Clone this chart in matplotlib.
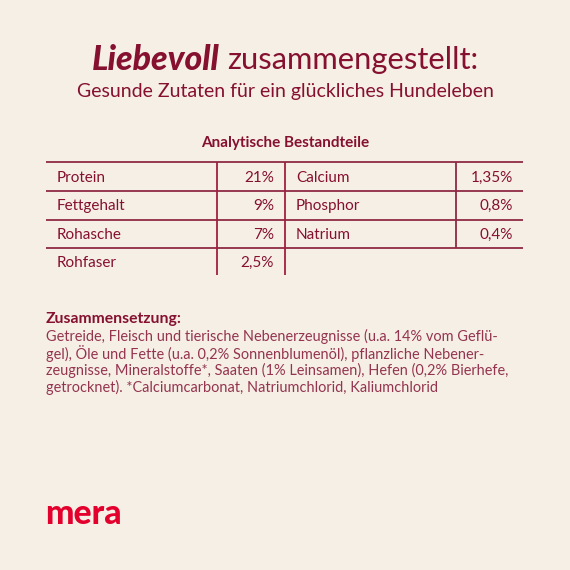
import matplotlib
matplotlib.use("Agg")
import matplotlib.pyplot as plt

BG = "#f6efe6"
DARK = "#85102f"
LINE = "#8f2a45"
BODY = "#94344f"
RED = "#e3002d"
FONT = "Lato"

title_bold = "Liebevoll"
title_rest = "zusammengestellt:"
subtitle = "Gesunde Zutaten für ein glückliches Hundeleben"
table_title = "Analytische Bestandteile"
left_names = ["Protein", "Fettgehalt", "Rohasche", "Rohfaser"]
left_values = ["21%", "9%", "7%", "2,5%"]
right_names = ["Calcium", "Phosphor", "Natrium"]
right_values = ["1,35%", "0,8%", "0,4%"]
comp_title = "Zusammensetzung:"
comp_lines = [
    "Getreide, Fleisch und tierische Nebenerzeugnisse (u.a. 14% vom Geflü-",
    "gel), Öle und Fette (u.a. 0,2% Sonnenblumenöl), pflanzliche Nebener-",
    "zeugnisse, Mineralstoffe*, Saaten (1% Leinsamen), Hefen (0,2% Bierhefe,",
    "getrocknet). *Calciumcarbonat, Natriumchlorid, Kaliumchlorid",
]
brand = "mera"

row_tops = [162, 191, 219.5, 248]
row_text = [177.8, 206.3, 234.8, 262.8]

fig = plt.figure(figsize=(5.7, 5.7), dpi=100, facecolor=BG)
ax = fig.add_axes([0, 0, 1, 1])
ax.set_xlim(0, 570)
ax.set_ylim(570, 0)
ax.axis("off")

def t(x, y, s, size, color=DARK, ha="left", weight="normal", style="normal"):
    return ax.text(x, y, s, fontsize=size, color=color, ha=ha, va="center",
                   family=FONT, fontweight=weight, fontstyle=style)

t(92, 60, title_bold, 24.4, weight="black", style="italic")
t(227.5, 60, title_rest, 22.2)
t(285, 91.5, subtitle, 14.0, ha="center")
t(285, 143.5, table_title, 11, ha="center", weight="bold")

ax.hlines(row_tops, 46, 523, color=LINE, lw=1.3)
ax.vlines([217, 285], 162, 275, color="#a0203f", lw=1.3)
ax.vlines([456], 162, 248, color=LINE, lw=1.3)

for y, n, v in zip(row_text, left_names, left_values):
    t(57, y, n, 11)
    t(274, y, v, 11, ha="right")
for y, n, v in zip(row_text, right_names, right_values):
    t(296, y, n, 11)
    t(513, y, v, 11, ha="right")

t(46, 319, comp_title, 11.35, weight="bold")
for y, line in zip([336, 353, 370, 387], comp_lines):
    t(46, y, line, 10.45, color=BODY)

t(45, 514, brand, 24.4, color=RED, weight="black")

fig.savefig("out.png", dpi=100, facecolor=BG)
